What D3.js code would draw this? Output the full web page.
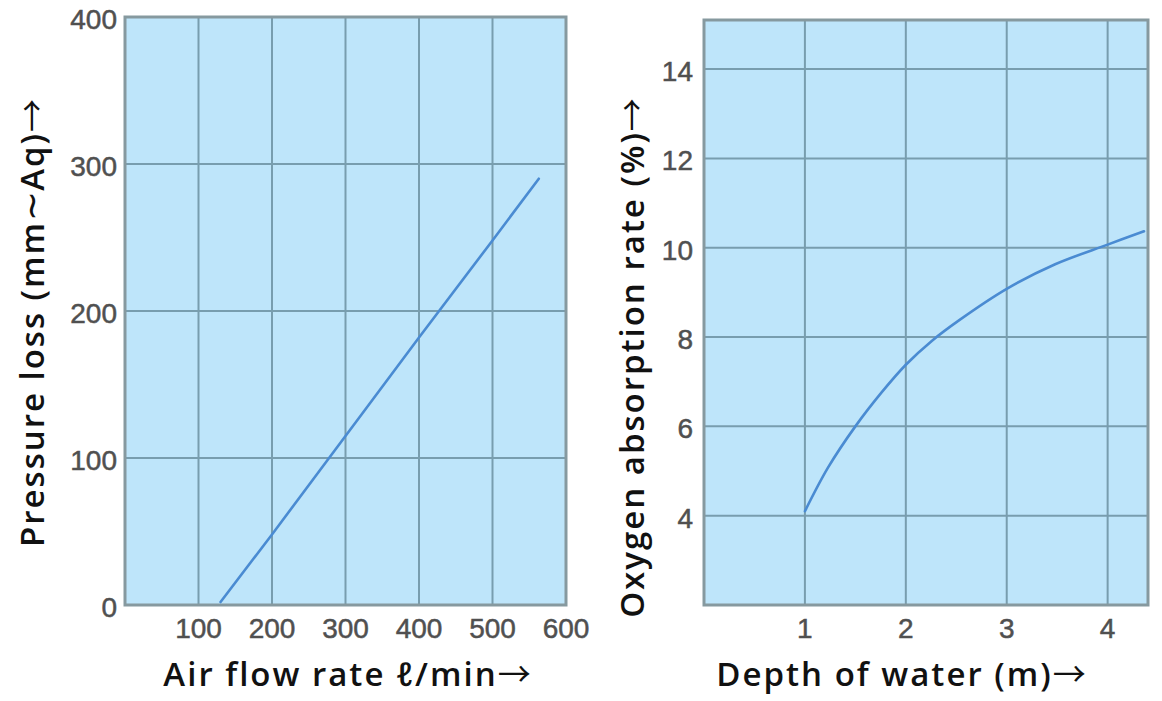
<!DOCTYPE html>
<html>
<head>
<meta charset="utf-8">
<script src="https://cdn.jsdelivr.net/npm/d3@7"></script>
<style>
  html, body { margin: 0; padding: 0; background: #fff; }
  svg { display: block; }
</style>
</head>
<body>
<div id="chart"></div>
<script>
// Left panel: pressure loss vs air flow rate
const airFlow = [130, 200, 300, 400, 500, 563];
const pressureLoss = [2, 48, 115, 182, 248, 290];
const airTicksX = [100, 200, 300, 400, 500, 600];
const airTicksY = [0, 100, 200, 300, 400];

// Right panel: oxygen absorption rate vs depth of water
const depth = [1, 1.23, 1.5, 1.76, 2, 2.26, 2.53, 3, 3.48, 4, 4.36];
const oxygenRate = [4.1, 5.08, 6.0, 6.76, 7.38, 7.92, 8.38, 9.08, 9.63, 10.07, 10.37];
const depthTicksX = [1, 2, 3, 4];
const oxygenTicksY = [4, 6, 8, 10, 12, 14];

const width = 1162, height = 701;
const svg = d3.select("#chart").append("svg")
  .attr("width", width)
  .attr("height", height);

const titleFont = "'Open Sans', 'Noto Sans', sans-serif";
const arrowFont = "'Noto Sans CJK JP', 'DejaVu Sans', sans-serif";
const tickFont = "'Liberation Sans', Arial, sans-serif";

// Title text with the symbol glyphs (∼ and →) set in a CJK font, like the original
function addTitle(sel, str) {
  const parts = str.split(/([\u223c\u2192])/).filter(s => s.length);
  parts.forEach(s => {
    const t = sel.append("tspan").text(s);
    if (/[\u223c\u2192]/.test(s)) {
      t.attr("font-family", arrowFont).attr("font-weight", 400)
        .attr("letter-spacing", 0);
    }
    if (s === "\u223c") {
      t.attr("font-family", "'DejaVu Sans', sans-serif").attr("font-size", 36);
    }
  });
}

function drawPanel(p) {
  const x = d3.scaleLinear().domain(p.xDomain).range([p.left, p.right]);
  const y = d3.scaleLinear().domain(p.yDomain).range([p.bottom, p.top]);

  // plot background
  svg.append("rect")
    .attr("x", p.left).attr("y", p.top)
    .attr("width", p.right - p.left).attr("height", p.bottom - p.top)
    .attr("fill", "#bee5fa");

  // grid lines
  svg.append("g")
    .selectAll("line")
    .data(p.xTicks.filter(t => t > p.xDomain[0] && t < p.xDomain[1]))
    .join("line")
    .attr("x1", d => x(d)).attr("x2", d => x(d))
    .attr("y1", p.top).attr("y2", p.bottom)
    .attr("stroke", "#789dae").attr("stroke-width", 2);

  svg.append("g")
    .selectAll("line")
    .data(p.yTicks.filter(t => t > p.yDomain[0] && t < p.yDomain[1]))
    .join("line")
    .attr("x1", p.left).attr("x2", p.right)
    .attr("y1", d => y(d)).attr("y2", d => y(d))
    .attr("stroke", "#789dae").attr("stroke-width", 2);

  // frame
  svg.append("rect")
    .attr("x", p.left).attr("y", p.top)
    .attr("width", p.right - p.left).attr("height", p.bottom - p.top)
    .attr("fill", "none")
    .attr("stroke", "#86999f").attr("stroke-width", 3);

  // data line
  const line = d3.line()
    .x(d => x(d[0]))
    .y(d => y(d[1]))
    .curve(p.curve);
  svg.append("path")
    .datum(p.xs.map((v, i) => [v, p.ys[i]]))
    .attr("d", line)
    .attr("fill", "none")
    .attr("stroke", "#4a8bd2")
    .attr("stroke-width", 2.6)
    .attr("stroke-linecap", "round");

  // tick labels
  svg.append("g")
    .selectAll("text")
    .data(p.xTicks)
    .join("text")
    .attr("x", d => x(d))
    .attr("y", p.bottom + 33)
    .attr("text-anchor", "middle")
    .attr("font-family", tickFont)
    .attr("font-size", 28)
    .attr("fill", "#505050")
    .attr("stroke", "#505050").attr("stroke-width", 0.5)
    .text(d => d);

  svg.append("g")
    .selectAll("text")
    .data(p.yTicks)
    .join("text")
    .attr("x", p.left - p.yLabelGap)
    .attr("y", d => y(d) + 12)
    .attr("text-anchor", "end")
    .attr("font-family", tickFont)
    .attr("font-size", 28)
    .attr("fill", "#505050")
    .attr("stroke", "#505050").attr("stroke-width", 0.5)
    .text(d => d);

  // axis titles
  const xt = svg.append("text")
    .attr("x", p.xTitleX).attr("y", 686)
    .attr("text-anchor", "middle")
    .attr("font-family", titleFont)
    .attr("font-weight", 600)
    .attr("font-size", 33)
    .attr("letter-spacing", 2)
    .attr("fill", "#111");
  addTitle(xt, p.xTitle);

  const yt = svg.append("text")
    .attr("transform", `translate(${p.yTitleX},${p.yTitleY}) rotate(-90)`)
    .attr("text-anchor", "middle")
    .attr("font-family", titleFont)
    .attr("font-weight", 600)
    .attr("font-size", 33)
    .attr("letter-spacing", 2)
    .attr("fill", "#111");
  addTitle(yt, p.yTitle);
}

drawPanel({
  left: 125, right: 566, top: 17, bottom: 605,
  xDomain: [0, 600], yDomain: [0, 400],
  xTicks: airTicksX, yTicks: airTicksY, yLabelGap: 8,
  xs: airFlow, ys: pressureLoss,
  curve: d3.curveLinear,
  xTitle: "Air flow rate \u2113/min\u2192", xTitleX: 347,
  yTitle: "Pressure loss (mm\u223cAq)\u2192", yTitleX: 44, yTitleY: 323
});

drawPanel({
  left: 704, right: 1148, top: 20, bottom: 605,
  xDomain: [0, 4.4], yDomain: [2, 15.1],
  xTicks: depthTicksX, yTicks: oxygenTicksY, yLabelGap: 11,
  xs: depth, ys: oxygenRate,
  curve: d3.curveCatmullRom,
  xTitle: "Depth of water (m)\u2192", xTitleX: 901,
  yTitle: "Oxygen absorption rate (%)\u2192", yTitleX: 644, yTitleY: 358
});
</script>
</body>
</html>
